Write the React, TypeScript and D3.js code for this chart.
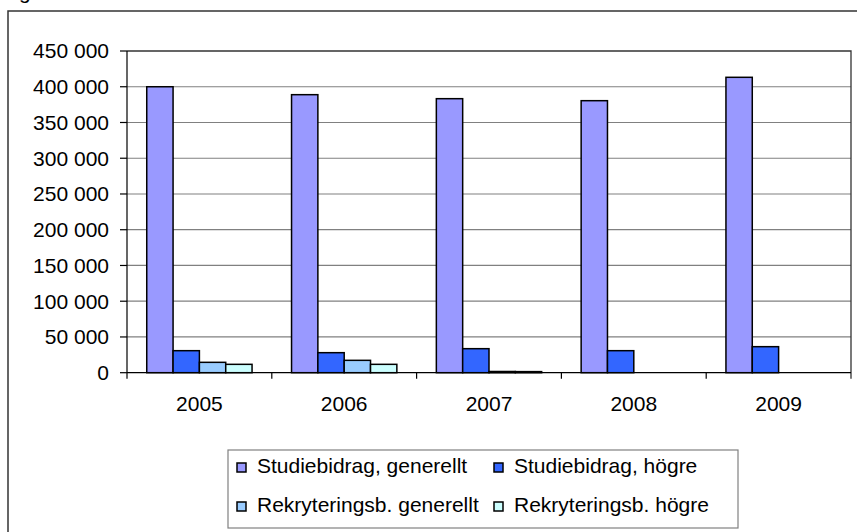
import React from "react";
import * as d3 from "d3";

const categories = ["2005", "2006", "2007", "2008", "2009"];
const seriesNames = [
  "Studiebidrag, generellt",
  "Studiebidrag, högre",
  "Rekryteringsb. generellt",
  "Rekryteringsb. högre",
];
const studiebidragGenerellt = [400000, 388900, 383300, 380500, 413200];
const studiebidragHogre = [30800, 28000, 33600, 30800, 36400];
const rekryteringsbGenerellt = [14500, 17300, 1700, 0, 0];
const rekryteringsbHogre = [11700, 11700, 1500, 0, 0];
const yTicks = [0, 50000, 100000, 150000, 200000, 250000, 300000, 350000, 400000, 450000];
const colors = ["#9999FF", "#3366FF", "#99CCFF", "#CCFFFF"];

const W = 857;
const H = 532;
const FONT = "'Liberation Sans', Arial, sans-serif";

export default function App() {
  const series = [studiebidragGenerellt, studiebidragHogre, rekryteringsbGenerellt, rekryteringsbHogre];
  const left = 127, right = 851, top = 51, bottom = 372.7;
  const x = d3.scaleBand<string>().domain(categories).range([left, right]).paddingInner(0).paddingOuter(0);
  const inner = d3
    .scaleBand<number>()
    .domain([0, 1, 2, 3])
    .range([0, x.bandwidth()])
    .paddingOuter(0.75)
    .paddingInner(0);
  const y = d3.scaleLinear().domain([0, 450000]).range([bottom, top]);
  const fmt = (v: number) => d3.format(",")(v).replace(/,/g, " ");

  return (
    <svg
      width={W}
      height={H}
      style={{ position: "absolute", left: 0, top: 0, background: "#fff" }}
      fontFamily={FONT}
    >
      {/* title fragment cut off at top */}
      <text x={19} y={-1.5} fontSize={21} fill="#000">g</text>
      {/* outer chart border */}
      <path d={`M8,${H} L8,11 L${W},11`} fill="none" stroke="#333" strokeWidth={1.5} />

      {/* gridlines */}
      {yTicks.filter((t) => t > 0 && t < 450000).map((t) => (
        <line key={t} x1={left} x2={right} y1={y(t)} y2={y(t)} stroke="#808080" strokeWidth={1.2} />
      ))}
      {/* plot border top/right */}
      <path d={`M${left},${top} L${right},${top} L${right},${bottom + 6}`} fill="none" stroke="#333" strokeWidth={1.3} />

      {/* bars */}
      {categories.map((c, ci) => (
        <g key={c}>
          {series.map((s, si) => {
            const v = s[ci];
            if (!v) return null;
            const bx = (x(c) as number) + (inner(si) as number);
            return (
              <rect
                key={si}
                x={bx}
                y={y(v)}
                width={inner.bandwidth()}
                height={bottom - y(v)}
                fill={colors[si]}
                stroke="#000"
                strokeWidth={1.5}
              />
            );
          })}
        </g>
      ))}

      {/* y axis */}
      <line x1={left} x2={left} y1={top} y2={bottom} stroke="#000" strokeWidth={1.2} />
      {yTicks.map((t) => (
        <g key={t}>
          <line x1={left - 7} x2={left} y1={y(t)} y2={y(t)} stroke="#000" strokeWidth={1.2} />
          <text x={109} y={y(t)} dy="0.35em" textAnchor="end" fontSize={21} fill="#000">
            {fmt(t)}
          </text>
        </g>
      ))}

      {/* x axis */}
      <line x1={left} x2={right} y1={bottom} y2={bottom} stroke="#000" strokeWidth={1.2} />
      {categories.map((c, i) => (
        <line key={"t" + c} x1={left + x.bandwidth() * i} x2={left + x.bandwidth() * i} y1={bottom} y2={bottom + 6} stroke="#000" strokeWidth={1.2} />
      ))}
      {categories.map((c) => (
        <text key={"l" + c} x={(x(c) as number) + x.bandwidth() / 2} y={411} textAnchor="middle" fontSize={21} fill="#000">
          {c}
        </text>
      ))}

      {/* legend */}
      <rect x={228} y={450} width={510} height={78} fill="#fff" stroke="#808080" strokeWidth={1.2} />
      {seriesNames.map((n, i) => {
        const col = i % 2;
        const row = Math.floor(i / 2);
        const mx = col === 0 ? 237 : 494;
        const ty = row === 0 ? 473 : 512;
        return (
          <g key={n}>
            <rect x={mx} y={ty - 10} width={9} height={9} fill={colors[i]} stroke="#000" strokeWidth={1.5} />
            <text x={mx + 20} y={ty} fontSize={21} fill="#000">{n}</text>
          </g>
        );
      })}
    </svg>
  );
}
